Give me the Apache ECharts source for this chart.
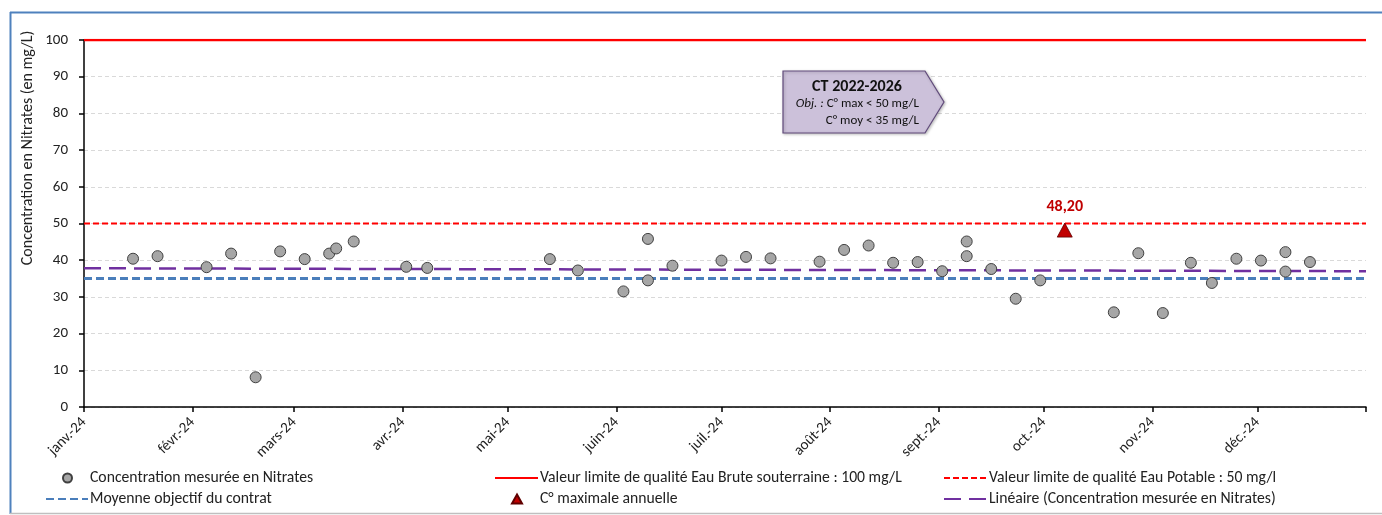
<!DOCTYPE html>
<html>
<head>
<meta charset="utf-8">
<script src="https://cdn.jsdelivr.net/npm/echarts@6/dist/echarts.min.js"></script>
<style>
html, body { margin: 0; padding: 0; background: #fff; }
#chart { width: 1382px; height: 515px; }
</style>
</head>
<body>
<div id="chart"></div>
<script>
// Relevés hebdomadaires (date, mg/L)
var sampleDates = [
  '2024-01-15', '2024-01-22', '2024-02-05', '2024-02-12', '2024-02-19', '2024-02-26',
  '2024-03-04', '2024-03-11', '2024-03-13', '2024-03-18', '2024-04-02', '2024-04-08',
  '2024-05-13', '2024-05-21', '2024-06-03', '2024-06-10', '2024-06-10', '2024-06-17',
  '2024-07-01', '2024-07-08', '2024-07-15', '2024-07-29', '2024-08-05', '2024-08-12',
  '2024-08-19', '2024-08-26', '2024-09-02', '2024-09-09', '2024-09-09', '2024-09-16',
  '2024-09-23', '2024-09-30', '2024-10-21', '2024-10-28', '2024-11-04', '2024-11-12',
  '2024-11-18', '2024-11-25', '2024-12-02', '2024-12-09', '2024-12-09', '2024-12-16'
];
var nitrateValues = [
  40.4, 41.1, 38.1, 41.8, 8.1, 42.4,
  40.3, 41.8, 43.2, 45.1, 38.2, 37.9,
  40.3, 37.2, 31.5, 45.8, 34.5, 38.5,
  39.9, 40.9, 40.5, 39.6, 42.8, 44.0,
  39.3, 39.5, 37.0, 45.1, 41.1, 37.6,
  29.5, 34.5, 25.8, 41.9, 25.6, 39.3,
  33.8, 40.4, 39.9, 42.2, 36.9, 39.5
];
var maxDate = '2024-10-07';
var maxValue = 48.2;

var periodDates = ['2024-01-01', '2025-01-01'];
var trendValues = [37.8, 37.0];
var limitBrute = 100;
var limitPotable = 50;
var objectifMoyen = 35;

var monthLabels = ['janv.-24', 'févr.-24', 'mars-24', 'avr.-24', 'mai-24', 'juin-24',
  'juil.-24', 'août-24', 'sept.-24', 'oct.-24', 'nov.-24', 'déc.-24'];

var FONT = 'Carlito, "Liberation Sans Narrow", "Liberation Sans", sans-serif';

function toTime(s) {
  var p = s.split('-');
  return new Date(+p[0], +p[1] - 1, +p[2]).getTime();
}

var monthTicks = [];
for (var m = 0; m <= 12; m++) monthTicks.push(new Date(2024, m, 1).getTime());

function pairs(dates, values) {
  return dates.map(function (d, i) { return [toTime(d), values[i]]; });
}
function flat(v) { return [[toTime(periodDates[0]), v], [toTime(periodDates[1]), v]]; }

var names = {
  pts: 'Concentration mesurée en Nitrates',
  brute: 'Valeur limite de qualité Eau Brute souterraine : 100 mg/L',
  potable: 'Valeur limite de qualité Eau Potable : 50 mg/l',
  moy: 'Moyenne objectif du contrat',
  max: 'C° maximale annuelle',
  lin: 'Linéaire (Concentration mesurée en Nitrates)'
};

// one legend per entry, laid out on the spreadsheet's 3-column grid
function legendAt(name, left, top, w, h, padLeft, lineIcon) {
  var l = {
    data: [name], left: left, top: top, padding: 0,
    itemWidth: w, itemHeight: h, itemGap: 0,
    selectedMode: false,
    textStyle: { fontFamily: FONT, fontSize: 15.7, color: '#222', padding: [0, 0, 0, padLeft] }
  };
  if (lineIcon) l.itemStyle = { opacity: 0 };
  return l;
}

var chart = echarts.init(document.getElementById('chart'));
var option = {
  animation: false,
  textStyle: { fontFamily: FONT },
  grid: { left: 84, right: 16, top: 40, bottom: 108 },
  legend: [
    legendAt(names.pts, 62, 470, 9, 9, 13, false),
    legendAt(names.brute, 494, 470, 43, 14, -3, true),
    legendAt(names.potable, 943, 470, 43, 14, -3, true),
    legendAt(names.moy, 45, 491, 42, 14, -3, true),
    legendAt(names.max, 511, 491, 10, 9, 13, false),
    legendAt(names.lin, 943, 491, 43, 14, -3, true)
  ],
  xAxis: {
    type: 'value',
    min: monthTicks[0],
    max: monthTicks[12],
    axisLine: { lineStyle: { color: '#000', width: 1.5 } },
    axisTick: { show: true, length: 5, customValues: monthTicks, lineStyle: { color: '#000', width: 1.5 } },
    axisLabel: {
      customValues: monthTicks.slice(0, 12),
      rotate: 45, margin: 13,
      fontFamily: FONT, fontSize: 15, color: '#222',
      formatter: function (v) {
        var d = new Date(v);
        return d.getFullYear() === 2024 ? monthLabels[d.getMonth()] : '';
      }
    },
    splitLine: { show: false }
  },
  yAxis: {
    type: 'value', min: 0, max: 100, interval: 10,
    axisLine: { show: true, lineStyle: { color: '#000', width: 1.5 } },
    axisTick: { show: true, length: 5, lineStyle: { color: '#000', width: 1.5 } },
    axisLabel: { fontFamily: FONT, fontSize: 15, color: '#222', margin: 16 },
    splitLine: { show: true, lineStyle: { color: '#d9d9d9', type: [4, 3], width: 1 } }
  },
  graphic: [
    { type: 'line', shape: { x1: 10, y1: 12.5, x2: 1382, y2: 12.5 }, style: { stroke: '#4f81bd', lineWidth: 2 } },
    { type: 'line', shape: { x1: 10.5, y1: 12, x2: 10.5, y2: 514 }, style: { stroke: '#4f81bd', lineWidth: 2 } },
    { type: 'line', shape: { x1: 10, y1: 513.5, x2: 1382, y2: 513.5 }, style: { stroke: '#bfbfbf', lineWidth: 1.5 } },
    {
      type: 'text', x: 28, y: 148, rotation: Math.PI / 2,
      style: { text: 'Concentration en Nitrates (en mg/L)', fontFamily: FONT, fontSize: 16, fill: '#222', align: 'center', verticalAlign: 'middle' }
    },
    {
      type: 'polygon', z: 10,
      shape: { points: [[783, 71], [925, 71], [944, 102], [925, 133], [783, 133]] },
      style: { fill: '#ccc1da', stroke: '#604a7b', lineWidth: 1.2, shadowBlur: 3, shadowColor: 'rgba(0,0,0,0.25)', shadowOffsetX: 1, shadowOffsetY: 1 }
    },
    {
      type: 'text', z: 11, x: 857, y: 87,
      style: { text: 'CT 2022-2026', fontFamily: FONT, fontSize: 16, fontWeight: 'bold', fill: '#111', align: 'center', verticalAlign: 'middle' }
    },
    {
      type: 'text', z: 11, x: 919, y: 104,
      style: {
        text: '{i|Obj. :} C° max < 50 mg/L', fontFamily: FONT, fontSize: 13, fill: '#111', align: 'right', verticalAlign: 'middle',
        rich: { i: { fontStyle: 'italic', fontFamily: FONT, fontSize: 13, fill: '#111' } }
      }
    },
    {
      type: 'text', z: 11, x: 919, y: 121,
      style: { text: 'C° moy < 35 mg/L', fontFamily: FONT, fontSize: 13, fill: '#111', align: 'right', verticalAlign: 'middle' }
    }
  ],
  series: [
    {
      name: names.brute, type: 'line', data: flat(limitBrute), symbol: 'none', z: 3,
      lineStyle: { color: '#ff0000', width: 2.5 }, itemStyle: { color: '#ff0000' }
    },
    {
      name: names.potable, type: 'line', data: flat(limitPotable), symbol: 'none', z: 3,
      lineStyle: { color: '#ff0000', width: 2, type: [6, 3] }, itemStyle: { color: '#ff0000' }
    },
    {
      name: names.moy, type: 'line', data: flat(objectifMoyen), symbol: 'none', z: 3,
      lineStyle: { color: '#4a7ebb', width: 3, type: [8, 4] }, itemStyle: { color: '#4a7ebb' }
    },
    {
      name: names.lin, type: 'line', data: pairs(periodDates, trendValues), symbol: 'none', z: 3,
      lineStyle: { color: '#7030a0', width: 2.5, type: [17, 8] }, itemStyle: { color: '#7030a0' }
    },
    {
      name: names.pts, type: 'scatter', data: pairs(sampleDates, nitrateValues), z: 5,
      symbol: 'circle', symbolSize: 11,
      itemStyle: { color: '#a6a6a6', borderColor: '#404040', borderWidth: 1, opacity: 1 }
    },
    {
      name: names.max, type: 'scatter', data: [[toTime(maxDate), maxValue]], z: 6,
      symbol: 'triangle', symbolSize: [15, 14],
      itemStyle: { color: '#c00000', borderColor: '#600000', borderWidth: 0.8, opacity: 1 },
      label: {
        show: true, position: 'top', distance: 8,
        fontFamily: FONT, fontSize: 16, fontWeight: 'bold', color: '#c00000',
        formatter: function (p) { return p.value[1].toFixed(2).replace('.', ','); }
      }
    }
  ]
};
chart.setOption(option);
</script>
</body>
</html>
